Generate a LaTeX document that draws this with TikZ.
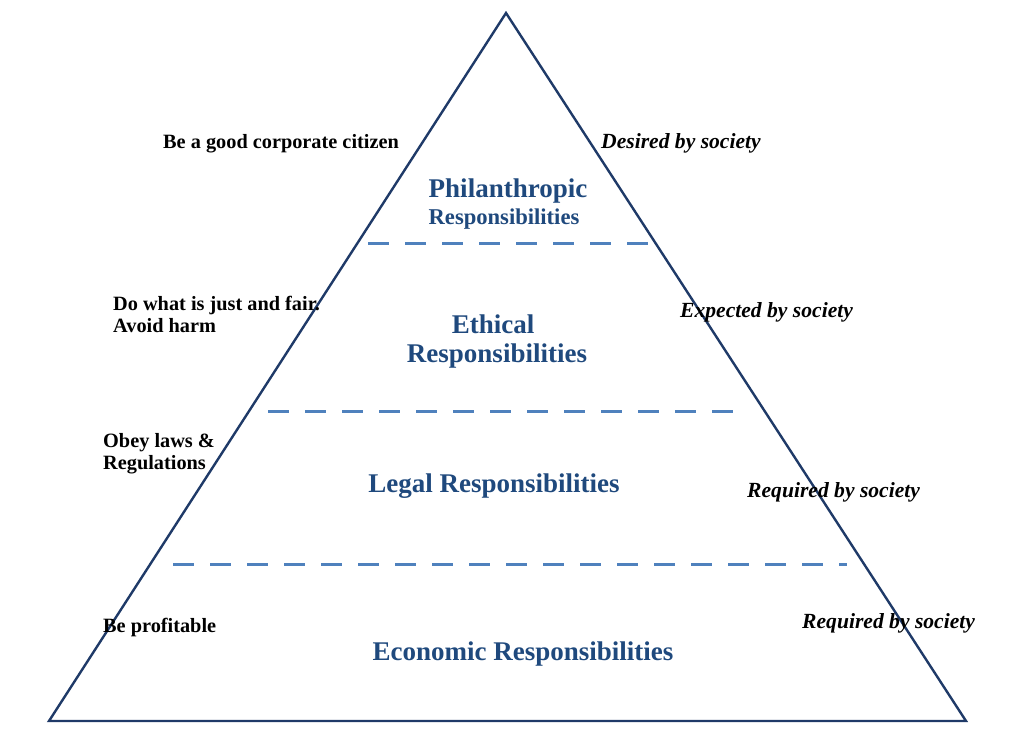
\documentclass[tikz,border=0pt]{standalone}
\usepackage{fontspec}
\setmainfont{Liberation Serif}
\usepackage{xcolor}
\usetikzlibrary{calc}

\definecolor{edgenavy}{HTML}{1F3A68}
\definecolor{layerblue}{HTML}{1F497D}
\definecolor{dashblue}{HTML}{4F81BD}

\tikzset{
  layer/.style={text=layerblue, font=\fontsize{27}{30}\selectfont\bfseries, inner sep=0pt, anchor=base},
  note/.style={text=black, font=\fontsize{20.3}{22}\selectfont\bfseries, inner sep=0pt, anchor=base west, align=left},
  society/.style={text=black, font=\fontsize{21.6}{24}\selectfont\bfseries\itshape, inner sep=0pt, anchor=base west},
  divider/.style={dashblue, line width=3pt, dash pattern=on 21pt off 16pt}
}

\begin{document}
\begin{tikzpicture}[x=1pt,y=-1pt]
  \useasboundingbox (0,0) rectangle (1024,739);

  % Define coordinates for the vertices of the pyramid
  \coordinate (Top) at (506,13);
  \coordinate (BL) at (49,721);
  \coordinate (BR) at (966,721);

  % Draw the pyramid
  \draw[edgenavy, line width=2.4pt, line join=miter] (Top) -- (BL) -- (BR) -- cycle;

  % End points of the dashed dividers
  \coordinate (d1a) at (368,243);
  \coordinate (d1b) at (652,243);
  \coordinate (d2a) at (268,411);
  \coordinate (d2b) at (737,411);
  \coordinate (d3a) at (173,564);
  \coordinate (d3b) at (847,564);
  \draw[divider] (d1a) -- (d1b);
  \draw[divider] (d2a) -- (d2b);
  \draw[divider] (d3a) -- (d3b);

  % Layer names
  \node[layer] (phil) at (508,197) {Philanthropic};
  \node[layer, font=\fontsize{22.6}{25}\selectfont\bfseries] (philR) at (504,224) {Responsibilities};
  \node[layer] (eth) at (493,333) {Ethical};
  \node[layer] (ethR) at (497,362) {Responsibilities};
  \node[layer] (legal) at (494,492) {Legal Responsibilities};
  \node[layer] (econ) at (523,660) {Economic Responsibilities};

  % What the firm does (left side), placed at the last baseline
  \node[note] (citizen) at (163,148) {Be a good corporate citizen};
  \node[note] (fair) at (113,332) {Do what is just and fair.\\Avoid harm};
  \node[note] (laws) at (103,469) {Obey laws \&\\Regulations};
  \node[note] (profit) at (103,632) {Be profitable};

  % What society asks (right side)
  \node[society] (desired) at (601,148) {Desired by society};
  \node[society] (expected) at (680,317) {Expected by society};
  \node[society] (required) at (747,497) {Required by society};
  \node[society] (required2) at (802,628) {Required by society};

\end{tikzpicture}
\end{document}
